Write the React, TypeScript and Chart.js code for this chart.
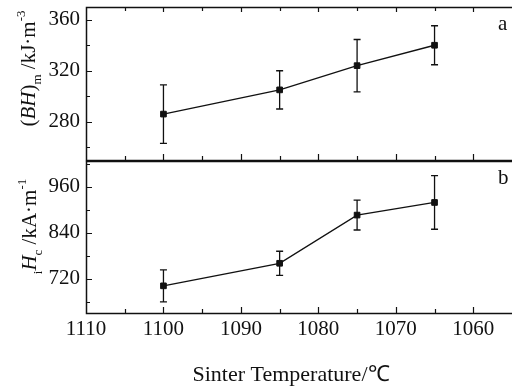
import React, { useEffect, useRef } from 'react';
import { Chart, registerables } from 'chart.js';

Chart.register(...registerables);

// ---- data ----
const temperatures = [1100, 1085, 1075, 1065];
const bhMax = [286, 305, 324, 340];
const bhMaxErr = [23, 15, 20.5, 15.3];
const hci = [701, 760, 886, 919];
const hciErr = [42, 31.5, 39, 70];

const xTicks = [1110, 1100, 1090, 1080, 1070, 1060];
const bhTicks = [280, 320, 360];
const hciTicks = [720, 840, 960];

const xMin = 1055;
const xMax = 1110;
const bhMin = 250;
const bhMaxLimit = 370;
const hciMin = 630;
const hciMaxLimit = 1030;

const xTitle = 'Sinter Temperature/℃';
const panelLabels = ['a', 'b'];

type Seg = { t: string; it?: boolean; sub?: boolean; sup?: boolean };
const topTitle: Seg[] = [
  { t: '(' },
  { t: 'BH', it: true },
  { t: ')' },
  { t: 'm', sub: true },
  { t: ' /kJ·m' },
  { t: '-3', sup: true },
];
const bottomTitle: Seg[] = [
  { t: 'i', sub: true },
  { t: 'H', it: true },
  { t: 'c', sub: true },
  { t: ' /kA·m' },
  { t: '-1', sup: true },
];

const FAMILY = '"Liberation Serif", "Times New Roman", serif';
const INK = '#111';
const TICK_SIZE = 21;

function drawVerticalRich(ctx: CanvasRenderingContext2D, segs: Seg[], bx: number, cy: number, size: number) {
  const small = Math.round(size * 0.62);
  const fontFor = (s: Seg) => `${s.it ? 'italic ' : ''}${s.sub || s.sup ? small : size}px ${FAMILY}`;
  const widths = segs.map((s) => {
    ctx.font = fontFor(s);
    return ctx.measureText(s.t).width;
  });
  const total = widths.reduce((a, b) => a + b, 0);
  ctx.save();
  ctx.translate(bx, cy);
  ctx.rotate(-Math.PI / 2);
  ctx.textBaseline = 'alphabetic';
  ctx.textAlign = 'left';
  ctx.fillStyle = INK;
  let x = -total / 2;
  segs.forEach((s, i) => {
    ctx.font = fontFor(s);
    const dy = s.sub ? size * 0.28 : s.sup ? -size * 0.5 : 0;
    ctx.fillText(s.t, x, dy);
    x += widths[i];
  });
  ctx.restore();
}

const zeroPad = (s: any) => {
  s.paddingTop = 0;
  s.paddingBottom = 0;
  s.paddingLeft = 0;
  s.paddingRight = 0;
};

const decorPlugin = {
  id: 'decor',
  beforeDatasetsDraw(chart: any) {
    const ctx: CanvasRenderingContext2D = chart.ctx;
    const xs = chart.scales.x;
    const sets = [
      { scale: chart.scales.yTop, vals: bhMax, errs: bhMaxErr },
      { scale: chart.scales.yBot, vals: hci, errs: hciErr },
    ];
    ctx.save();
    ctx.strokeStyle = INK;
    ctx.lineWidth = 1.3;
    sets.forEach(({ scale, vals, errs }) => {
      temperatures.forEach((t, i) => {
        const px = xs.getPixelForValue(t);
        const y1 = scale.getPixelForValue(vals[i] + errs[i]);
        const y2 = scale.getPixelForValue(vals[i] - errs[i]);
        ctx.beginPath();
        ctx.moveTo(px, y1);
        ctx.lineTo(px, y2);
        ctx.moveTo(px - 3.5, y1);
        ctx.lineTo(px + 3.5, y1);
        ctx.moveTo(px - 3.5, y2);
        ctx.lineTo(px + 3.5, y2);
        ctx.stroke();
      });
    });
    ctx.restore();
  },
  afterDraw(chart: any) {
    const ctx: CanvasRenderingContext2D = chart.ctx;
    const area = chart.chartArea;
    const xs = chart.scales.x;
    const yT = chart.scales.yTop;
    const yB = chart.scales.yBot;
    const left = area.left;
    const right = area.right;
    ctx.save();
    ctx.strokeStyle = INK;

    // frames
    ctx.lineWidth = 1.5;
    const panels = [
      { top: yT.top, bottom: yT.bottom, scale: yT, majors: bhTicks, step: 40, topTicks: true },
      { top: yB.top + 1, bottom: yB.bottom, scale: yB, majors: hciTicks, step: 120, topTicks: false },
    ];
    panels.forEach((p) => {
      ctx.strokeRect(left + 0.5, p.top + 0.5, right - left + 4, p.bottom - p.top);
    });

    // ticks
    ctx.lineWidth = 1.2;
    const xMinor: number[] = [];
    xTicks.forEach((v) => {
      const m = v - 5;
      if (m > xMin && m < xMax) xMinor.push(m);
    });
    panels.forEach((p) => {
      ctx.beginPath();
      xTicks.forEach((v) => {
        const px = Math.round(xs.getPixelForValue(v)) + 0.5;
        if (px <= left + 1) return;
        ctx.moveTo(px, p.bottom);
        ctx.lineTo(px, p.bottom - 6);
        if (p.topTicks) {
          ctx.moveTo(px, p.top);
          ctx.lineTo(px, p.top + 5);
        }
      });
      xMinor.forEach((v) => {
        const px = Math.round(xs.getPixelForValue(v)) + 0.5;
        ctx.moveTo(px, p.bottom);
        ctx.lineTo(px, p.bottom - 4);
        if (p.topTicks) {
          ctx.moveTo(px, p.top);
          ctx.lineTo(px, p.top + 4);
        }
      });
      const half = p.step / 2;
      const minors: number[] = [];
      p.majors.forEach((v) => {
        [v - half, v + half].forEach((m) => {
          if (m > p.scale.min && m < p.scale.max && !minors.includes(m)) minors.push(m);
        });
      });
      p.majors.forEach((v) => {
        const py = Math.round(p.scale.getPixelForValue(v)) + 0.5;
        ctx.moveTo(left, py);
        ctx.lineTo(left + 6, py);
      });
      minors.forEach((v) => {
        const py = Math.round(p.scale.getPixelForValue(v)) + 0.5;
        ctx.moveTo(left, py);
        ctx.lineTo(left + 4, py);
      });
      ctx.stroke();
    });

    // panel labels
    ctx.fillStyle = INK;
    ctx.font = `21px ${FAMILY}`;
    ctx.textAlign = 'left';
    ctx.textBaseline = 'alphabetic';
    ctx.fillText(panelLabels[0], 498, 30);
    ctx.fillText(panelLabels[1], 498, 184);

    // x title
    ctx.textAlign = 'center';
    ctx.font = `22px ${FAMILY}`;
    ctx.fillText(xTitle, 291, 381);

    // y titles
    drawVerticalRich(ctx, topTitle, 35, 68.5, 21);
    drawVerticalRich(ctx, bottomTitle, 36, 226.5, 21);

    ctx.restore();
  },
};

export default function App() {
  const ref = useRef<HTMLCanvasElement | null>(null);

  useEffect(() => {
    if (!ref.current) return;
    const tickFont = { family: FAMILY, size: TICK_SIZE };
    const chart = new Chart(ref.current, {
      type: 'line',
      data: {
        datasets: [
          {
            data: temperatures.map((t, i) => ({ x: t, y: bhMax[i] })),
            yAxisID: 'yTop',
            borderColor: INK,
            backgroundColor: INK,
            borderWidth: 1.3,
            pointStyle: 'rect',
            pointRadius: 4,
            pointBorderWidth: 1,
            tension: 0,
          },
          {
            data: temperatures.map((t, i) => ({ x: t, y: hci[i] })),
            yAxisID: 'yBot',
            borderColor: INK,
            backgroundColor: INK,
            borderWidth: 1.3,
            pointStyle: 'rect',
            pointRadius: 4,
            pointBorderWidth: 1,
            tension: 0,
          },
        ],
      },
      options: {
        responsive: false,
        animation: false,
        events: [],
        layout: { padding: { top: 7, left: 0, right: 0, bottom: 0 }, autoPadding: false },
        plugins: { legend: { display: false }, tooltip: { enabled: false } },
        scales: {
          x: {
            type: 'linear',
            reverse: true,
            min: xMin,
            max: xMax,
            afterBuildTicks: (s: any) => {
              s.ticks = xTicks.map((v) => ({ value: v }));
            },
            ticks: {
              font: tickFont,
              color: INK,
              padding: 4,
              maxRotation: 0,
              autoSkip: false,
              callback: (v: any) => String(v),
            },
            grid: { display: false, drawTicks: false },
            border: { display: false },
            afterFit: (s: any) => {
              s.height = 77;
              zeroPad(s);
            },
          },
          yBot: {
            type: 'linear',
            position: 'left',
            stack: 'panels',
            stackWeight: 1,
            min: hciMin,
            max: hciMaxLimit,
            afterBuildTicks: (s: any) => {
              s.ticks = hciTicks.map((v) => ({ value: v }));
            },
            ticks: { font: tickFont, color: INK, padding: 6, callback: (v: any) => String(v) },
            grid: { display: false, drawTicks: false },
            border: { display: false },
            afterFit: (s: any) => {
              s.width = 86;
              zeroPad(s);
            },
          },
          yTop: {
            type: 'linear',
            position: 'left',
            stack: 'panels',
            stackWeight: 1,
            min: bhMin,
            max: bhMaxLimit,
            afterBuildTicks: (s: any) => {
              s.ticks = bhTicks.map((v) => ({ value: v }));
            },
            ticks: { font: tickFont, color: INK, padding: 6, callback: (v: any) => String(v) },
            grid: { display: false, drawTicks: false },
            border: { display: false },
            afterFit: (s: any) => {
              s.width = 86;
              zeroPad(s);
            },
          },
        },
      } as any,
      plugins: [decorPlugin],
    });
    return () => chart.destroy();
  }, []);

  return (
    <div style={{ position: 'fixed', left: 0, top: 0, width: 512, height: 390, background: '#fff' }}>
      <canvas ref={ref} width={512} height={390} style={{ display: 'block' }} />
    </div>
  );
}
